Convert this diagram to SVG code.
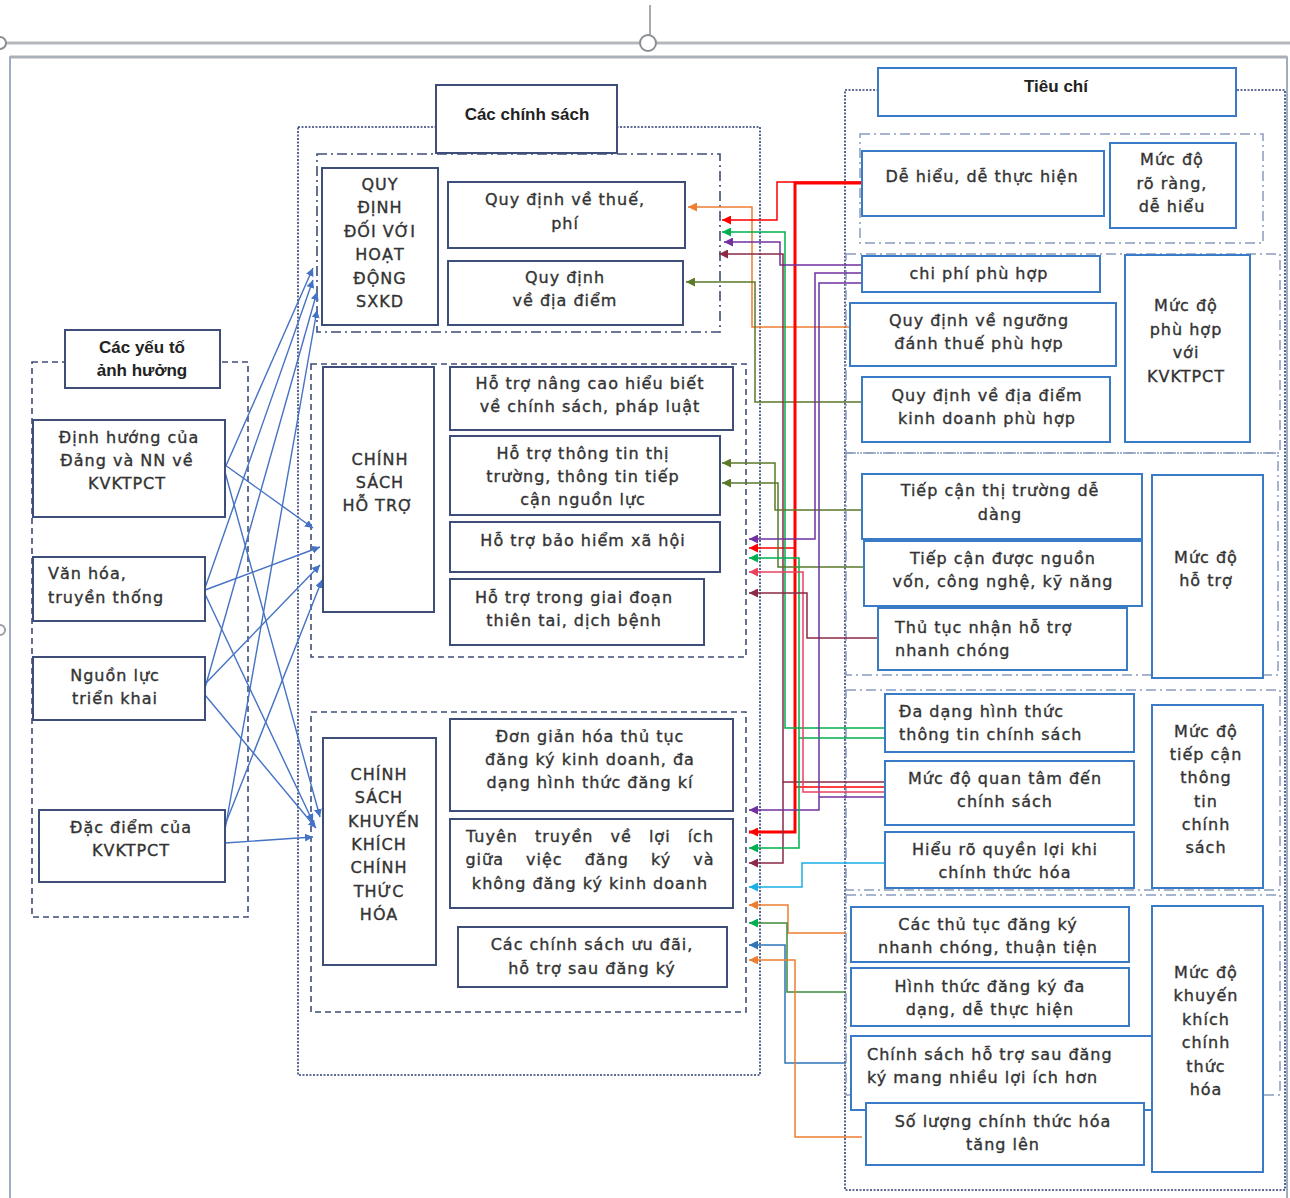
<svg xmlns="http://www.w3.org/2000/svg" width="1290" height="1198" viewBox="0 0 1290 1198">
<defs>
<style>
.nb{fill:#fff;stroke:#3F4E78;stroke-width:2}
.rb{fill:#fff;stroke:#3A7BC8;stroke-width:2}
.t{font-family:"DejaVu Sans",sans-serif;font-size:16px;fill:#333;stroke:#333;stroke-width:0.35px;text-anchor:middle;letter-spacing:1px}
.tl{text-anchor:start}
.h{font-family:"Liberation Sans",sans-serif;font-weight:bold;font-size:17px;fill:#222;text-anchor:middle}
.dot{fill:none;stroke:#2F3D78;stroke-width:1.6;stroke-dasharray:2 1.5}
.dash{fill:none;stroke:#3F4E78;stroke-width:1.6;stroke-dasharray:6 4}
.dd{fill:none;stroke:#3F4E78;stroke-width:1.6;stroke-dasharray:10 4 2 4}
.ddl{fill:none;stroke:#8A9CC0;stroke-width:1.5;stroke-dasharray:10 4 2 4}
.bl{fill:none;stroke:#4472C4;stroke-width:1.4;marker-end:url(#mB)}
.c{fill:none;stroke-width:1.5}
</style>
<marker id="mB" viewBox="0 0 10 10" refX="10" refY="5" markerWidth="8" markerHeight="8" markerUnits="userSpaceOnUse" orient="auto"><path d="M0,0L10,5L0,10z" fill="#4472C4"/></marker>
<marker id="mO" viewBox="0 0 10 10" refX="10" refY="5" markerWidth="9" markerHeight="9" markerUnits="userSpaceOnUse" orient="auto"><path d="M0,0L10,5L0,10z" fill="#ED7D31"/></marker>
<marker id="mR" viewBox="0 0 10 10" refX="10" refY="5" markerWidth="9" markerHeight="9" markerUnits="userSpaceOnUse" orient="auto"><path d="M0,0L10,5L0,10z" fill="#FF0000"/></marker>
<marker id="mG" viewBox="0 0 10 10" refX="10" refY="5" markerWidth="9" markerHeight="9" markerUnits="userSpaceOnUse" orient="auto"><path d="M0,0L10,5L0,10z" fill="#00B050"/></marker>
<marker id="mP" viewBox="0 0 10 10" refX="10" refY="5" markerWidth="9" markerHeight="9" markerUnits="userSpaceOnUse" orient="auto"><path d="M0,0L10,5L0,10z" fill="#7030A0"/></marker>
<marker id="mM" viewBox="0 0 10 10" refX="10" refY="5" markerWidth="9" markerHeight="9" markerUnits="userSpaceOnUse" orient="auto"><path d="M0,0L10,5L0,10z" fill="#8B2A45"/></marker>
<marker id="mV" viewBox="0 0 10 10" refX="10" refY="5" markerWidth="9" markerHeight="9" markerUnits="userSpaceOnUse" orient="auto"><path d="M0,0L10,5L0,10z" fill="#5A7A2A"/></marker>
<marker id="mK" viewBox="0 0 10 10" refX="10" refY="5" markerWidth="9" markerHeight="9" markerUnits="userSpaceOnUse" orient="auto"><path d="M0,0L10,5L0,10z" fill="#E8435F"/></marker>
<marker id="mC" viewBox="0 0 10 10" refX="10" refY="5" markerWidth="9" markerHeight="9" markerUnits="userSpaceOnUse" orient="auto"><path d="M0,0L10,5L0,10z" fill="#1AAFE6"/></marker>
<marker id="mD" viewBox="0 0 10 10" refX="10" refY="5" markerWidth="9" markerHeight="9" markerUnits="userSpaceOnUse" orient="auto"><path d="M0,0L10,5L0,10z" fill="#2E75B6"/></marker>
</defs>
<rect width="1290" height="1198" fill="#fff"/>

<g id="frame">
<line x1="0" y1="43" x2="1290" y2="43" stroke="#B4B8BC" stroke-width="3"/>
<line x1="650" y1="5" x2="650" y2="35" stroke="#8A8F94" stroke-width="1.5"/>
<circle cx="648" cy="43" r="8" fill="#fff" stroke="#8A8F94" stroke-width="2"/>
<circle cx="0" cy="43" r="6" fill="#fff" stroke="#8A8F94" stroke-width="2"/>
<circle cx="0" cy="630" r="5" fill="#fff" stroke="#9A9FA4" stroke-width="2"/>
<rect x="10" y="57" width="1277" height="1170" fill="none" stroke="#7F93AD" stroke-width="1.5"/>
<line x1="10" y1="57" x2="1287" y2="57" stroke="#AAB0B8" stroke-width="3"/>
</g>

<g id="containers">
<rect x="32" y="362" width="216" height="555" class="dash"/>
<rect x="298" y="127" width="462" height="948" class="dot"/>
<rect x="317" y="154" width="403" height="178" class="dd"/>
<rect x="311" y="364" width="435" height="293" class="dash"/>
<rect x="311" y="712" width="435" height="300" class="dash"/>
<rect x="845" y="90" width="440" height="1100" class="dot"/>
<rect x="860" y="134" width="403" height="109" class="ddl"/>
<rect x="846" y="254" width="434" height="199" class="ddl"/>
<rect x="846" y="453" width="432" height="222" class="ddl"/>
<rect x="846" y="690" width="434" height="200" class="ddl"/>
<rect x="846" y="895" width="434" height="200" class="ddl"/>
</g>

<g id="title-policies"><rect x="436" y="85" width="181" height="68" class="nb"/><text class="h" x="527" y="120">Các chính sách</text></g>
<g id="title-criteria"><rect x="878" y="68" width="358" height="48" class="rb"/><text class="h" x="1056" y="92">Tiêu chí</text></g>
<g id="title-factors"><rect x="65" y="330" width="155" height="58" class="nb"/><text class="h" x="142" y="353">Các yếu tố<tspan x="142" dy="23">ảnh hưởng</tspan></text></g>

<g id="connectors">
<path class="bl" d="M225,468L313,268"/>
<path class="bl" d="M225,465L313,528"/>
<path class="bl" d="M225,472L320,817"/>
<path class="bl" d="M205,588L313,280"/>
<path class="bl" d="M205,590L320,547"/>
<path class="bl" d="M205,594L313,822"/>
<path class="bl" d="M205,688L317,292"/>
<path class="bl" d="M205,684L320,565"/>
<path class="bl" d="M205,695L316,828"/>
<path class="bl" d="M225,830L317,310"/>
<path class="bl" d="M225,825L322,580"/>
<path class="bl" d="M225,843L313,837"/>

<path class="c" stroke="#ED7D31" marker-end="url(#mO)" d="M850,327H752V207H688"/>
<path class="c" stroke="#5A7A2A" marker-end="url(#mV)" d="M862,402H755V282H686"/>
<path class="c" stroke="#FF0000" stroke-width="2" marker-end="url(#mR)" d="M862,182H777V220H722"/>
<path fill="none" stroke="#FF0000" stroke-width="3" marker-end="url(#mR)" d="M862,183H795V832H749"/>
<path class="c" stroke="#FF0000" marker-end="url(#mR)" d="M795,548H749"/>
<path class="c" stroke="#FF0000" d="M795,787H885"/>
<path class="c" stroke="#00B050" marker-end="url(#mG)" d="M885,728H785V232H722"/>
<path class="c" stroke="#7030A0" marker-end="url(#mP)" d="M862,265H780V242H724"/>
<path class="c" stroke="#8B2A45" marker-end="url(#mM)" d="M885,782H783V254H719"/>
<path class="c" stroke="#8B2A45" marker-end="url(#mM)" d="M783,782V863H749"/>
<path class="c" stroke="#5A7A2A" marker-end="url(#mV)" d="M862,510H775V463H722"/>
<path class="c" stroke="#5A7A2A" marker-end="url(#mV)" d="M864,567H778V483H722"/>
<path class="c" stroke="#7030A0" marker-end="url(#mP)" d="M862,273H815V539H749"/>
<path class="c" stroke="#7030A0" marker-end="url(#mP)" d="M862,283H819V810H749"/>
<path class="c" stroke="#7030A0" d="M819,797H885"/>
<path class="c" stroke="#00B050" marker-end="url(#mG)" d="M885,738H799V558H749"/>
<path class="c" stroke="#00B050" marker-end="url(#mG)" d="M799,738V848H749"/>
<path class="c" stroke="#E8435F" marker-end="url(#mK)" d="M885,792H803V572H749"/>
<path class="c" stroke="#8B2A45" marker-end="url(#mM)" d="M878,638H807V593H749"/>
<path class="c" stroke="#1AAFE6" marker-end="url(#mC)" d="M885,863H802V887H749"/>
<path class="c" stroke="#ED7D31" marker-end="url(#mO)" d="M846,933H788V905H749"/>
<path class="c" stroke="#3F8A3A" marker-end="url(#mG)" d="M846,992H787V923H749"/>
<path class="c" stroke="#2E75B6" marker-end="url(#mD)" d="M846,1063H785V945H749"/>
<path class="c" stroke="#ED7D31" marker-end="url(#mO)" d="M862,1137H795V960H749"/>
</g>

<g id="f1"><rect x="33" y="420" width="192" height="97" class="nb"/><text class="t" x="129" y="443">Định hướng của<tspan x="127" dy="23">Đảng và NN về</tspan><tspan x="127" dy="23">KVKTPCT</tspan></text></g>
<g id="f2"><rect x="33" y="557" width="172" height="64" class="nb"/><text class="t tl" x="48" y="579">Văn hóa,<tspan x="48" dy="24">truyền thống</tspan></text></g>
<g id="f3"><rect x="33" y="657" width="172" height="63" class="nb"/><text class="t" x="115" y="681">Nguồn lực<tspan x="115" dy="23">triển khai</tspan></text></g>
<g id="f4"><rect x="39" y="810" width="186" height="72" class="nb"/><text class="t" x="131" y="833">Đặc điểm của<tspan x="131" dy="23">KVKTPCT</tspan></text></g>

<g id="p1"><rect x="322" y="168" width="116" height="157" class="nb"/><text class="t" x="380" y="190">QUY<tspan x="380" dy="23.4">ĐỊNH</tspan><tspan x="380" dy="23.4">ĐỐI VỚI</tspan><tspan x="380" dy="23.4">HOẠT</tspan><tspan x="380" dy="23.4">ĐỘNG</tspan><tspan x="380" dy="23.4">SXKD</tspan></text></g>
<g id="p1a"><rect x="448" y="182" width="237" height="66" class="nb"/><text class="t" x="565" y="205">Quy định về thuế,<tspan x="565" dy="24">phí</tspan></text></g>
<g id="p1b"><rect x="448" y="261" width="235" height="64" class="nb"/><text class="t" x="565" y="283">Quy định<tspan x="565" dy="23">về địa điểm</tspan></text></g>

<g id="p2"><rect x="323" y="367" width="111" height="245" class="nb"/><text class="t" x="380" y="465">CHÍNH<tspan x="380" dy="23">SÁCH</tspan><tspan x="378" dy="23">HỖ TRỢ</tspan></text></g>
<g id="p2a"><rect x="450" y="367" width="283" height="63" class="nb"/><text class="t" x="590" y="389">Hỗ trợ nâng cao hiểu biết<tspan x="590" dy="23">về chính sách, pháp luật</tspan></text></g>
<g id="p2b"><rect x="450" y="436" width="270" height="79" class="nb"/><text class="t" x="583" y="459">Hỗ trợ thông tin thị<tspan x="583" dy="23">trường, thông tin tiếp</tspan><tspan x="583" dy="23">cận nguồn lực</tspan></text></g>
<g id="p2c"><rect x="450" y="522" width="270" height="50" class="nb"/><text class="t" x="583" y="546">Hỗ trợ bảo hiểm xã hội</text></g>
<g id="p2d"><rect x="450" y="579" width="254" height="66" class="nb"/><text class="t" x="574" y="603">Hỗ trợ trong giai đoạn<tspan x="574" dy="23">thiên tai, dịch bệnh</tspan></text></g>

<g id="p3"><rect x="323" y="738" width="113" height="227" class="nb"/><text class="t" x="379" y="780">CHÍNH<tspan x="379" dy="23.3">SÁCH</tspan><tspan x="384" dy="23.3">KHUYẾN</tspan><tspan x="379" dy="23.3">KHÍCH</tspan><tspan x="379" dy="23.3">CHÍNH</tspan><tspan x="379" dy="23.3">THỨC</tspan><tspan x="379" dy="23.3">HÓA</tspan></text></g>
<g id="p3a"><rect x="450" y="719" width="283" height="92" class="nb"/><text class="t" x="590" y="742">Đơn giản hóa thủ tục<tspan x="590" dy="23">đăng ký kinh doanh, đa</tspan><tspan x="590" dy="23">dạng hình thức đăng kí</tspan></text></g>
<g id="p3b"><rect x="450" y="819" width="283" height="89" class="nb"/><text class="t" x="590" y="842" word-spacing="11px">Tuyên truyền về lợi ích<tspan x="590" dy="23" word-spacing="16px">giữa việc đăng ký và</tspan><tspan x="590" dy="24" word-spacing="0">không đăng ký kinh doanh</tspan></text></g>
<g id="p3c"><rect x="458" y="927" width="269" height="60" class="nb"/><text class="t" x="592" y="950">Các chính sách ưu đãi,<tspan x="592" dy="24">hỗ trợ sau đăng ký</tspan></text></g>

<g id="c1"><rect x="862" y="151" width="242" height="65" class="rb"/><text class="t" x="982" y="182">Dễ hiểu, dễ thực hiện</text></g>
<g id="c1m"><rect x="1110" y="143" width="126" height="85" class="rb"/><text class="t" x="1172" y="165">Mức độ<tspan x="1172" dy="23.5">rõ ràng,</tspan><tspan x="1172" dy="23.5">dễ hiểu</tspan></text></g>
<g id="c2a"><rect x="862" y="256" width="238" height="36" class="rb"/><text class="t" x="979" y="279">chi phí phù hợp</text></g>
<g id="c2b"><rect x="850" y="303" width="266" height="63" class="rb"/><text class="t" x="979" y="326">Quy định về ngưỡng<tspan x="979" dy="23">đánh thuế phù hợp</tspan></text></g>
<g id="c2c"><rect x="862" y="377" width="248" height="65" class="rb"/><text class="t" x="987" y="401">Quy định về địa điểm<tspan x="987" dy="23">kinh doanh phù hợp</tspan></text></g>
<g id="c2m"><rect x="1125" y="255" width="125" height="187" class="rb"/><text class="t" x="1186" y="311">Mức độ<tspan x="1186" dy="23.5">phù hợp</tspan><tspan x="1186" dy="23.5">với</tspan><tspan x="1186" dy="23.5">KVKTPCT</tspan></text></g>
<g id="c3a"><rect x="862" y="474" width="280" height="65" class="rb"/><text class="t" x="1000" y="496">Tiếp cận thị trường dễ<tspan x="1000" dy="24">dàng</tspan></text></g>
<g id="c3b"><rect x="864" y="541" width="278" height="65" class="rb"/><text class="t" x="1003" y="564">Tiếp cận được nguồn<tspan x="1003" dy="23">vốn, công nghệ, kỹ năng</tspan></text></g>
<g id="c3c"><rect x="878" y="608" width="249" height="62" class="rb"/><text class="t tl" x="895" y="633">Thủ tục nhận hỗ trợ<tspan x="895" dy="23">nhanh chóng</tspan></text></g>
<g id="c3m"><rect x="1152" y="475" width="111" height="203" class="rb"/><text class="t" x="1206" y="563">Mức độ<tspan x="1206" dy="23">hỗ trợ</tspan></text></g>
<g id="c4a"><rect x="885" y="694" width="249" height="58" class="rb"/><text class="t tl" x="899" y="717">Đa dạng hình thức<tspan x="899" dy="23">thông tin chính sách</tspan></text></g>
<g id="c4b"><rect x="885" y="761" width="249" height="64" class="rb"/><text class="t" x="1005" y="784">Mức độ quan tâm đến<tspan x="1005" dy="23">chính sách</tspan></text></g>
<g id="c4c"><rect x="885" y="832" width="249" height="56" class="rb"/><text class="t" x="1005" y="855">Hiểu rõ quyền lợi khi<tspan x="1005" dy="23">chính thức hóa</tspan></text></g>
<g id="c4m"><rect x="1152" y="705" width="111" height="183" class="rb"/><text class="t" x="1206" y="737">Mức độ<tspan x="1206" dy="23.2">tiếp cận</tspan><tspan x="1206" dy="23.2">thông</tspan><tspan x="1206" dy="23.2">tin</tspan><tspan x="1206" dy="23.2">chính</tspan><tspan x="1206" dy="23.2">sách</tspan></text></g>
<g id="c5a"><rect x="851" y="907" width="278" height="55" class="rb"/><text class="t" x="988" y="930">Các thủ tục đăng ký<tspan x="988" dy="23">nhanh chóng, thuận tiện</tspan></text></g>
<g id="c5b"><rect x="851" y="968" width="278" height="58" class="rb"/><text class="t" x="990" y="992">Hình thức đăng ký đa<tspan x="990" dy="23">dạng, dễ thực hiện</tspan></text></g>
<g id="c5c"><rect x="851" y="1036" width="301" height="74" class="rb"/><text class="t tl" x="867" y="1060">Chính sách hỗ trợ sau đăng<tspan x="867" dy="23">ký mang nhiều lợi ích hơn</tspan></text></g>
<g id="c5d"><rect x="866" y="1103" width="278" height="62" class="rb"/><text class="t" x="1003" y="1127">Số lượng chính thức hóa<tspan x="1003" dy="23">tăng lên</tspan></text></g>
<g id="c5m"><rect x="1152" y="906" width="111" height="266" class="rb"/><text class="t" x="1206" y="978">Mức độ<tspan x="1206" dy="23.4">khuyến</tspan><tspan x="1206" dy="23.4">khích</tspan><tspan x="1206" dy="23.4">chính</tspan><tspan x="1206" dy="23.4">thức</tspan><tspan x="1206" dy="23.4">hóa</tspan></text></g>
</svg>
